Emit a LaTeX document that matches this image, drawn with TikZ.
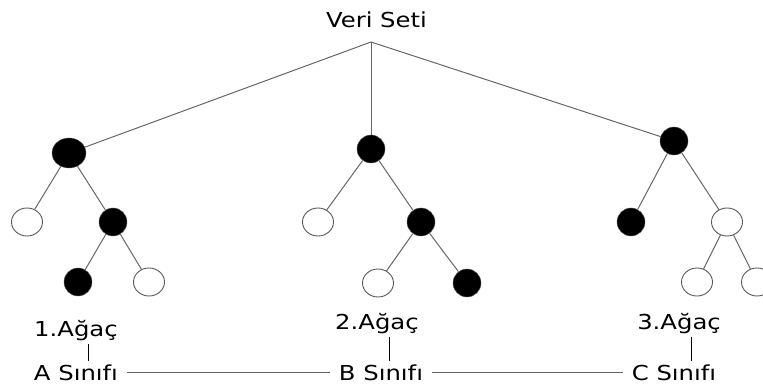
\documentclass[tikz,border=0pt]{standalone}
\usepackage{fontspec}
\setmainfont{DejaVu Sans}[FakeStretch=1.18]
\usetikzlibrary{shapes.geometric}
\tikzset{
    dolu/.style={ellipse, draw=black!65, fill=black, minimum width=28pt, minimum height=28pt, inner sep=0pt}, % filled tree nodes
    bos/.style={ellipse, draw=black!65, line width=0.9pt, fill=white, minimum width=31pt, minimum height=28pt, inner sep=0pt}, % empty tree nodes
    etiket/.style={font=\fontsize{20.6}{24}\selectfont, inner sep=3pt, anchor=base}, % texts under the trees
    sinif/.style={etiket, inner xsep=9pt}, % class names, a little room for the joining line
    every edge/.style={draw=black!60, line width=1pt}, % the branches
}

\begin{document}
\begin{tikzpicture}[x=1pt, y=-1pt]
    \path[use as bounding box, clip] (0,0) rectangle (763,387);
    \node[etiket] (veri) at (376.5,28) {Veri Seti};
    \coordinate (tepe) at (371,42);
    % 1. tree
    \node[dolu, minimum width=34pt, minimum height=30pt] (k1) at (69,153) {};
    \node[bos] (k1l) at (27,222) {};
    \node[dolu] (k1r) at (113,222) {};
    \node[dolu] (k1rl) at (78,282) {};
    \node[bos] (k1rr) at (149,282) {};
    % 2. tree
    \node[dolu] (k2) at (371,149) {};
    \node[bos] (k2l) at (318,222) {};
    \node[dolu] (k2r) at (421,222) {};
    \node[bos] (k2rl) at (378,283) {};
    \node[dolu] (k2rr) at (467,283) {};
    % 3. tree
    \node[dolu] (k3) at (674,141) {};
    \node[dolu] (k3l) at (631,222) {};
    \node[bos] (k3r) at (727,222) {};
    \node[bos] (k3rl) at (697,282) {};
    \node[bos] (k3rr) at (757,282) {};
    % labels
    \node[etiket] (a1) at (76,337) {1.Ağaç};
    \node[etiket] (a2) at (377,330) {2.Ağaç};
    \node[etiket] (a3) at (679,330) {3.Ağaç};
    \node[sinif] (s1) at (76,380) {A Sınıfı};
    \node[sinif] (s2) at (381,380) {B Sınıfı};
    \node[sinif] (s3) at (674,380) {C Sınıfı};
    \draw (tepe) edge (k1) (tepe) edge (k2) (tepe) edge (k3)
    (k1) edge (k1l) (k1) edge (k1r) (k1r) edge (k1rl) (k1r) edge (k1rr)
    (k2) edge (k2l) (k2) edge (k2r) (k2r) edge (k2rl) (k2r) edge (k2rr)
    (k3) edge (k3l) (k3) edge (k3r) (k3r) edge (k3rl) (k3r) edge (k3rr)
    (s1) edge (s2) (s2) edge (s3);
    \draw[line width=1.3pt] ([xshift=12.5]a1.south) -- ([xshift=12.5]a1.south |- s1.north);
    \draw[line width=1.3pt] ([xshift=12.5]a2.south) -- ([xshift=12.5]a2.south |- s2.north);
    \draw[line width=1.3pt] ([xshift=12.5]a3.south) -- ([xshift=12.5]a3.south |- s3.north);
\end{tikzpicture}
\end{document}
